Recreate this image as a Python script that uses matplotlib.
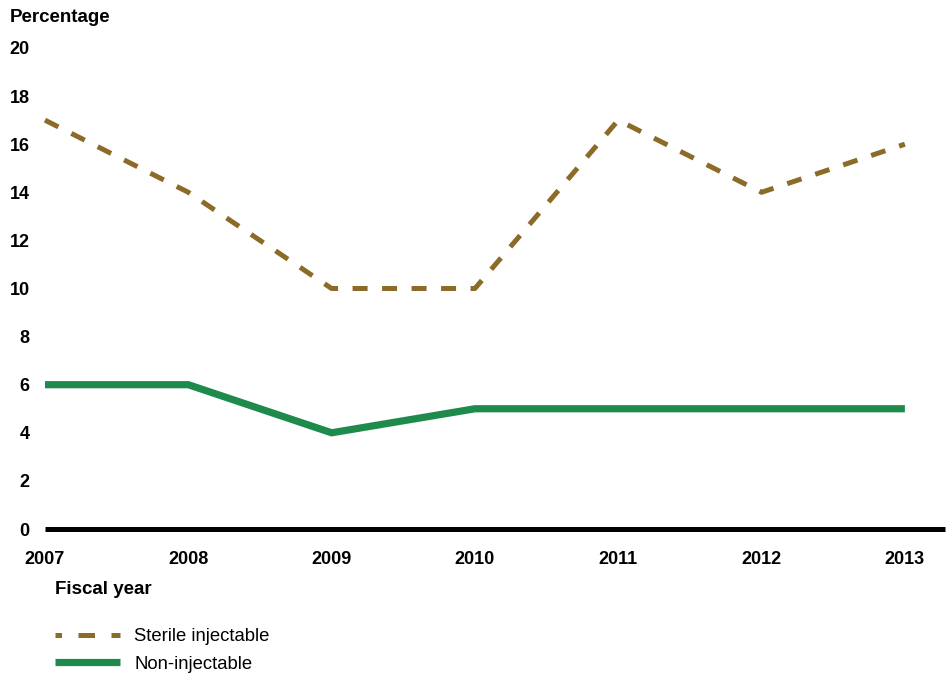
import matplotlib.pyplot as plt
from matplotlib.lines import Line2D

plt.rcParams["font.family"] = ["Liberation Sans", "DejaVu Sans"]

years = [2007, 2008, 2009, 2010, 2011, 2012, 2013]
sterile = [17, 14, 10, 10, 17, 14, 16]
non_injectable = [6, 6, 4, 5, 5, 5, 5]
y_ticks = [0, 2, 4, 6, 8, 10, 12, 14, 16, 18, 20]

BROWN = "#8C6A28"
GREEN = "#1E8A4C"

W, H = 949, 677
fig = plt.figure(figsize=(W / 100, H / 100), dpi=100)
ax = fig.add_axes([45 / W, 1 - 529 / H, 900 / W, 481 / H])

ax.plot(years, sterile, color=BROWN, lw=3.6, dashes=(3.0, 2.9))
ax.plot(years, non_injectable, color=GREEN, lw=5.2,
        solid_capstyle="butt", solid_joinstyle="miter")

ax.set_xlim(2007, 2013.28)
ax.set_ylim(0, 20)
ax.set_yticks(y_ticks)
ax.set_xticks(years)
ax.set_xticklabels([str(y) for y in years])

for side in ("left", "right", "top"):
    ax.spines[side].set_visible(False)
ax.spines["bottom"].set_linewidth(3.6)
ax.spines["bottom"].set_color("black")
ax.spines["bottom"].set_capstyle("butt")
ax.tick_params(axis="both", length=0, labelsize=13)
ax.tick_params(axis="y", pad=11)
ax.tick_params(axis="x", pad=16)
for lbl in ax.get_xticklabels() + ax.get_yticklabels():
    lbl.set_fontweight("bold")
for line in ax.get_lines():
    line.set_clip_on(False)

fig.text(10 / W, 1 - 17 / H, "Percentage", fontsize=13.5, fontweight="bold",
         ha="left", va="center")
fig.text(55 / W, 1 - 590 / H, "Fiscal year", fontsize=13.5, fontweight="bold",
         ha="left", va="center")

handles = [
    Line2D([], [], color=BROWN, lw=3.6, linestyle=(2.0, (3.3, 3.3))),
    Line2D([], [], color=GREEN, lw=5.2, solid_capstyle="butt"),
]
fig.legend(handles, ["Sterile injectable", "Non-injectable"],
           loc="upper left", bbox_to_anchor=(55 / W, 1 - 628 / H),
           frameon=False, fontsize=13.3, handlelength=3.5, handletextpad=0.8,
           labelspacing=0.58, borderaxespad=0, borderpad=0)

fig.savefig("out.png", dpi=100)
